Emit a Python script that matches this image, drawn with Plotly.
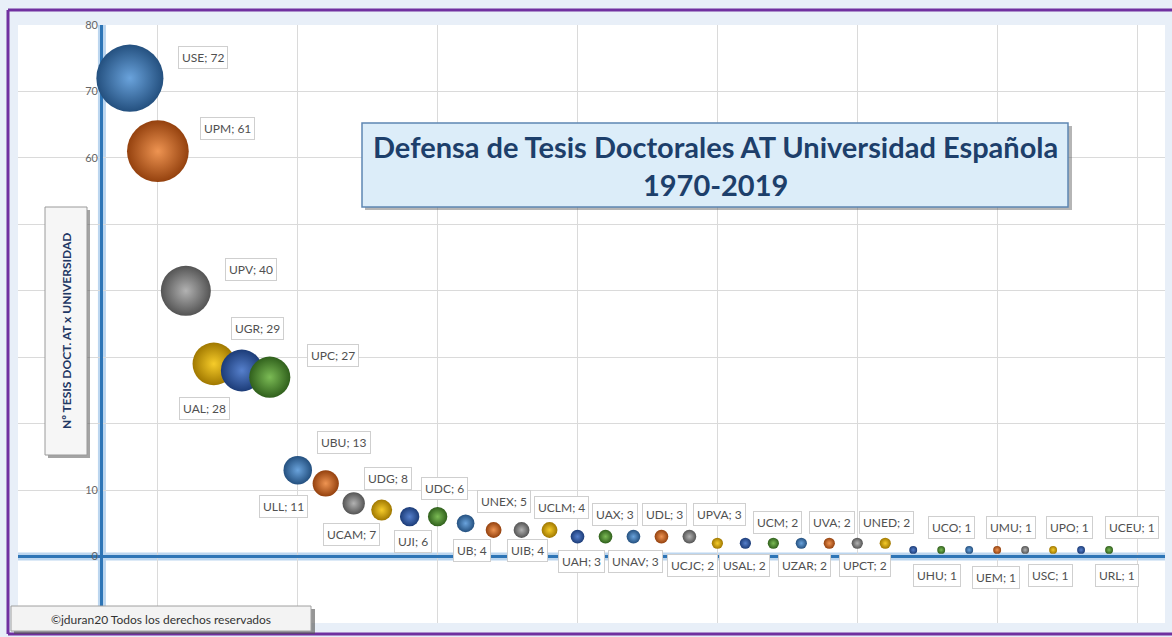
import plotly.graph_objects as go

# ---------------- data ----------------
names = ["USE", "UPM", "UPV", "UGR", "UAL", "UPC", "UBU", "ULL", "UDG", "UCAM",
         "UDC", "UJI", "UNEX", "UB", "UCLM", "UIB", "UAX", "UAH", "UDL", "UNAV",
         "UPVA", "UCJC", "UCM", "USAL", "UVA", "UZAR", "UNED", "UPCT", "UCO", "UHU",
         "UMU", "UEM", "UPO", "USC", "UCEU", "URL"]
values = [72, 61, 40, 29, 28, 27, 13, 11, 8, 7,
          6, 6, 5, 4, 4, 4, 3, 3, 3, 3,
          3, 2, 2, 2, 2, 2, 2, 2, 1, 1,
          1, 1, 1, 1, 1, 1]
rank = list(range(1, len(names) + 1))

title_text = "Defensa de Tesis Doctorales AT Universidad Española<br>1970-2019"
yaxis_title = "Nº TESIS DOCT. AT x UNIVERSIDAD"
credit_text = "©jduran20 Todos los derechos reservados"
y_tickvals = [-10, 0, 10, 20, 30, 40, 50, 60, 70, 80]
y_ticktext = ["", "0", "10", "", "", "", "", "60", "70", "80"]

# ---------------- styles ----------------
W, H = 1172, 637
ML, MR, MT, MB = 18, 7, 25, 14
PW, PH = W - ML - MR, H - MT - MB
FONT = "Lato, Open Sans, sans-serif"

palette_edge = ["#24507f", "#94410e", "#545454", "#a07800", "#1c3c78", "#30601c"]
palette_center = ["#6aa3dc", "#ee9452", "#b2b2b2", "#f6cc2a", "#5680cc", "#7bbb55"]
colors = [palette_edge[i % 6] for i in range(len(names))]
colors_c = [palette_center[i % 6] for i in range(len(names))]

# label offsets in pixels (ax, ay)
offsets = [(73, -21), (70, -23), (65, -21), (44, -35), (-37, 38), (63, -22),
           (46, -28), (-42, 23), (34, -25), (-30, 24), (35, -28), (-25, 25),
           (38, -22), (-22, 21), (40, -22), (-22, 21), (37, -22), (-24, 25),
           (31, -22), (-26, 25), (30, -22), (-25, 22), (32, -21), (-29, 22),
           (31, -21), (-25, 22), (29, -21), (-20, 22), (38, -22), (-4, 26),
           (42, -22), (-1, 28), (44, -22), (-3, 26), (51, -22), (8, 26)]


def px_x(px):
    return (px - ML) / PW


def px_y(py):
    return (H - MB - py) / PH


fig = go.Figure()

fig.add_trace(go.Scatter(
    x=rank, y=values, mode="markers",
    text=[f"{n}; {v}" for n, v in zip(names, values)],
    hoverinfo="text",
    marker=dict(
        size=values, sizemode="area", sizeref=0.032,
        color=colors,
        gradient=dict(type="radial", color=colors_c),
        line=dict(width=0),
        opacity=1,
    ),
    showlegend=False,
))

# glow behind axis lines (data coordinates)
fig.add_shape(type="line", xref="x", yref="y", x0=0, x1=0, y0=-10, y1=80,
              line=dict(color="#bcd6ef", width=8), layer="below")
fig.add_shape(type="line", xref="x", yref="y", x0=-3, x1=38, y0=0, y1=0,
              line=dict(color="#bcd6ef", width=8), layer="below")

# outer purple frame (as lines)
frame = dict(color="#7030a0", width=3)
fig.add_shape(type="line", xref="paper", yref="paper", x0=px_x(8), x1=px_x(1172),
              y0=px_y(10), y1=px_y(10), line=frame, layer="above")
fig.add_shape(type="line", xref="paper", yref="paper", x0=px_x(8), x1=px_x(1172),
              y0=px_y(634), y1=px_y(634), line=frame, layer="above")
fig.add_shape(type="line", xref="paper", yref="paper", x0=px_x(8), x1=px_x(8),
              y0=px_y(10), y1=px_y(634), line=frame, layer="above")

# title box + shadow
fig.add_shape(type="rect", xref="paper", yref="paper",
              x0=px_x(365), x1=px_x(1072), y0=px_y(210), y1=px_y(126),
              line=dict(width=0), fillcolor="rgba(90,90,90,0.45)", layer="above")
fig.add_shape(type="rect", xref="paper", yref="paper",
              x0=px_x(362), x1=px_x(1068), y0=px_y(207), y1=px_y(123),
              line=dict(color="#5d86b3", width=1.5), fillcolor="#dcedf9", layer="above")
# y-axis title box + shadow
fig.add_shape(type="rect", xref="paper", yref="paper",
              x0=px_x(48), x1=px_x(90), y0=px_y(458), y1=px_y(210),
              line=dict(width=0), fillcolor="rgba(90,90,90,0.55)", layer="above")
fig.add_shape(type="rect", xref="paper", yref="paper",
              x0=px_x(45), x1=px_x(87), y0=px_y(455), y1=px_y(207),
              line=dict(color="#9a9a9a", width=1), fillcolor="#f6f6f6", layer="above")
# credit box + shadow
fig.add_shape(type="rect", xref="paper", yref="paper",
              x0=px_x(14), x1=px_x(315), y0=px_y(634), y1=px_y(609),
              line=dict(width=0), fillcolor="rgba(80,80,80,0.6)", layer="above")
fig.add_shape(type="rect", xref="paper", yref="paper",
              x0=px_x(11), x1=px_x(311), y0=px_y(631), y1=px_y(606),
              line=dict(color="#a0a0a0", width=1), fillcolor="#f3f3f3", layer="above")

for n, v, x, (ax, ay) in zip(names, values, rank, offsets):
    fig.add_annotation(
        x=x, y=v, xref="x", yref="y", text=f"{n}; {v}",
        showarrow=True, arrowcolor="rgba(0,0,0,0)", arrowwidth=0.1,
        ax=ax, ay=ay,
        font=dict(family=FONT, size=12, color="#505050"),
        bgcolor="#ffffff", bordercolor="#cfcfcf", borderwidth=1, borderpad=3,
    )

fig.add_annotation(
    xref="paper", yref="paper", x=px_x(715), y=px_y(166),
    xanchor="center", yanchor="middle",
    text=f"<b>{title_text}</b>", showarrow=False, align="center",
    font=dict(family=FONT, size=29, color="#1d3f6b"),
)
fig.add_annotation(
    xref="paper", yref="paper", x=px_x(66), y=px_y(331),
    xanchor="center", yanchor="middle",
    text=f"<b>{yaxis_title}</b>", showarrow=False, textangle=-90,
    font=dict(family=FONT, size=12, color="#1f3864"),
)
fig.add_annotation(
    xref="paper", yref="paper", x=px_x(161), y=px_y(619),
    xanchor="center", yanchor="middle",
    text=credit_text, showarrow=False,
    font=dict(family=FONT, size=12, color="#333333"),
)

fig.update_layout(
    width=W, height=H,
    margin=dict(l=ML, r=MR, t=MT, b=MB),
    paper_bgcolor="#e8eff8",
    plot_bgcolor="#ffffff",
    showlegend=False,
    xaxis=dict(
        range=[-3, 38], tick0=-3, dtick=5, showticklabels=False,
        showgrid=True, gridcolor="#dadada", gridwidth=1,
        zeroline=True, zerolinecolor="#2e75b6", zerolinewidth=3,
        showline=False, ticks="",
    ),
    yaxis=dict(
        range=[-10, 80], tickmode="array", tickvals=y_tickvals, ticktext=y_ticktext,
        anchor="free", position=3 / 41,
        showgrid=True, gridcolor="#dadada", gridwidth=1,
        zeroline=True, zerolinecolor="#2e75b6", zerolinewidth=3,
        showline=False, ticks="", ticklabelstandoff=4,
        tickfont=dict(family=FONT, size=11, color="#666666"),
    ),
)

fig.write_html("out.html", config={"displayModeBar": False},
               post_script="document.body.style.margin='0';")
